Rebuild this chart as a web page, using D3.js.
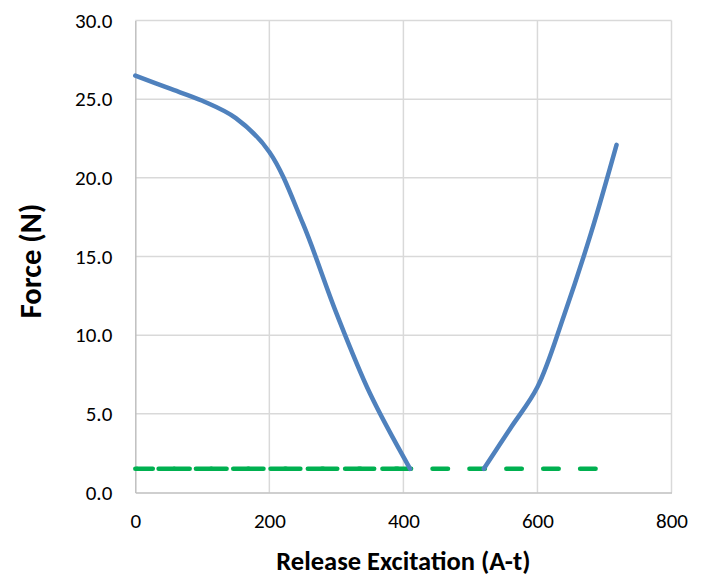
<!DOCTYPE html>
<html>
<head>
<meta charset="utf-8">
<script src="https://cdn.jsdelivr.net/npm/d3@7"></script>
<style>
	body { margin: 0; background: #ffffff; }
	text { font-family: Carlito, Lato, 'Liberation Sans', sans-serif; fill: #000000; }
</style>
</head>
<body>
<svg id="chart" width="708" height="577"></svg>
<script>
// DATA
// - force curve (two separate branches)
const releaseLeftX = [0, 50, 100, 150, 200, 250, 300, 350, 410];
const forceLeftY = [26.5, 25.7, 24.9, 23.8, 21.65, 17.1, 11.4, 6.3, 1.5];
const releaseRightX = [520, 560, 600, 640, 680, 718];
const forceRightY = [1.5, 4.1, 6.7, 11.3, 16.5, 22.1];
// - green limit line (two overlapping dashed series)
const limitAX = [0, 690];
const limitBX = [0, 410];
const limitForce = 1.5;
// - ticks
const xTicks = [0, 200, 400, 600, 800];
const yTicks = [0, 5, 10, 15, 20, 25, 30];

// SVG CONSTANTS
const svg = d3.select('#chart');
const plotLeft = 135.3;
const plotRight = 671.5;
const plotTop = 20.6;
const plotBottom = 492.4;
const blue = '#4f81bd';
const green = '#00b050';

const x = d3.scaleLinear().domain([0, 800]).range([plotLeft, plotRight]);
const y = d3.scaleLinear().domain([0, 30]).range([plotBottom, plotTop]);

function render(){
	drawGrid();
	drawAxes();
	drawLimit();
	drawForce();
	drawTitles();
}

// gridlines, incl. the top and right ones
function drawGrid(){
	const grid = svg.append('g').attr('class', 'grid');

	grid.selectAll('line.v')
		.data(xTicks.slice(1))
		.join('line')
			.attr('x1', d => x(d))
			.attr('x2', d => x(d))
			.attr('y1', plotTop)
			.attr('y2', plotBottom)
			.attr('stroke', '#d9d9d9')
			.attr('stroke-width', 1.5);

	grid.selectAll('line.h')
		.data(yTicks.slice(1))
		.join('line')
			.attr('x1', plotLeft)
			.attr('x2', plotRight)
			.attr('y1', d => y(d))
			.attr('y2', d => y(d))
			.attr('stroke', '#d9d9d9')
			.attr('stroke-width', 1.5);
}

// axes with tick labels only
function drawAxes(){
	const xAxis = d3.axisBottom(x)
		.tickValues(xTicks)
		.tickSize(0)
		.tickPadding(21)
		.tickFormat(d3.format('d'));

	const yAxis = d3.axisLeft(y)
		.tickValues(yTicks)
		.tickSize(0)
		.tickPadding(23)
		.tickFormat(d3.format('.1f'));

	const gx = svg.append('g')
		.attr('transform', 'translate(0,' + plotBottom + ')')
		.call(xAxis);
	const gy = svg.append('g')
		.attr('transform', 'translate(' + plotLeft + ',0)')
		.call(yAxis);

	[gx, gy].forEach(function(g){
		g.select('.domain')
			.attr('stroke', '#bfbfbf')
			.attr('stroke-width', 1.5);
		g.selectAll('text')
			.attr('font-family', 'Carlito, Lato, sans-serif')
			.attr('font-size', '21px')
			.attr('fill', '#000000');
	});
}

// dashed green limit line
function drawLimit(){
	const line = d3.line()
		.x(d => x(d))
		.y(() => y(limitForce));

	svg.append('path')
		.datum(limitAX)
		.attr('d', line)
		.attr('fill', 'none')
		.attr('stroke', green)
		.attr('stroke-width', 4.5)
		.attr('stroke-linecap', 'round')
		.attr('stroke-dasharray', '15.5 21.4')
		.attr('stroke-dashoffset', -2);

	svg.append('path')
		.datum(limitBX)
		.attr('d', line)
		.attr('fill', 'none')
		.attr('stroke', green)
		.attr('stroke-width', 4.5)
		.attr('stroke-linecap', 'round')
		.attr('stroke-dasharray', '15.5 21.8')
		.attr('stroke-dashoffset', 14);
}

// smoothed blue force curve, both branches
function drawForce(){
	const line = d3.line()
		.x(d => x(d[0]))
		.y(d => y(d[1]))
		.curve(d3.curveCatmullRom.alpha(0.5));

	const branches = [
		d3.zip(releaseLeftX, forceLeftY),
		d3.zip(releaseRightX, forceRightY)
	];

	svg.selectAll('path.force')
		.data(branches)
		.join('path')
			.attr('class', 'force')
			.attr('d', line)
			.attr('fill', 'none')
			.attr('stroke', blue)
			.attr('stroke-width', 4.5)
			.attr('stroke-linecap', 'round');
}

// axis titles
function drawTitles(){
	svg.append('text')
		.attr('x', (plotLeft + plotRight) / 2)
		.attr('y', 570)
		.attr('text-anchor', 'middle')
		.attr('font-size', '26.5px')
		.attr('font-weight', 'bold')
		.text('Release Excitation (A-t)');

	svg.append('text')
		.attr('transform', 'translate(41,261) rotate(-90)')
		.attr('text-anchor', 'middle')
		.attr('font-size', '30.5px')
		.attr('font-weight', 'bold')
		.text('Force (N)');
}

render();
</script>
</body>
</html>
